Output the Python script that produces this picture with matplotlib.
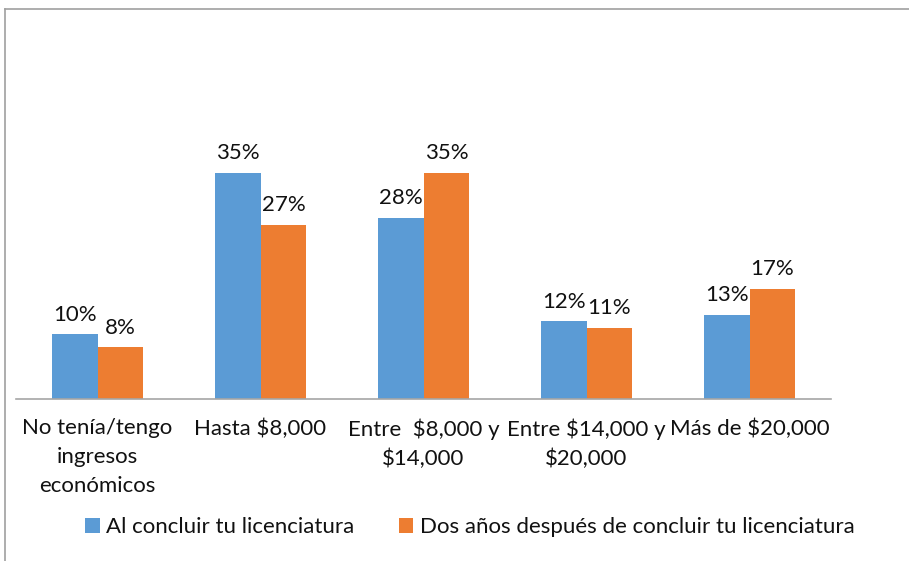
import matplotlib.pyplot as plt
import numpy as np
from matplotlib.lines import Line2D

plt.rcParams['font.family'] = ['Lato', 'DejaVu Sans']

categories = ['No tenía/tengo\ningresos\neconómicos', 'Hasta $8,000',
              'Entre  $8,000 y\n$14,000', 'Entre $14,000 y\n$20,000',
              'Más de $20,000']
al_concluir = [10, 35, 28, 12, 13]
dos_anios = [8, 27, 35, 11, 17]
series_names = ['Al concluir tu licenciatura',
                'Dos años después de concluir tu licenciatura']

blue = '#5B9BD5'
orange = '#ED7D31'

fig = plt.figure(figsize=(9.09, 5.61), dpi=100)
W, H = 909, 561
# plot area placed to match the reference (pixels)
ax = fig.add_axes([16 / W, (H - 399) / H, (831 - 16) / W, (399 - 60) / H])

x = np.arange(len(categories))
w = 0.282
b1 = ax.bar(x - w / 2, al_concluir, w, color=blue, label=series_names[0])
b2 = ax.bar(x + w / 2, dos_anios, w, color=orange, label=series_names[1])

for bars, vals in [(b1, al_concluir), (b2, dos_anios)]:
    for r, v in zip(bars, vals):
        ax.annotate(f'{v}%', (r.get_x() + r.get_width() / 2, v),
                    xytext=(0, 7), textcoords='offset points',
                    ha='center', va='bottom', fontsize=16, color='#111111')

ax.set_xlim(-0.5, len(categories) - 0.5)
ax.set_ylim(0, (399 - 60) / 6.46)
ax.set_xticks(x)
ax.set_xticklabels(categories, fontsize=16, color='#111111', linespacing=1.55)
ax.tick_params(axis='x', length=0, pad=14)
ax.set_yticks([])
for s in ['top', 'right', 'left']:
    ax.spines[s].set_visible(False)
ax.spines['bottom'].set_color('#a6a6a6')
ax.spines['bottom'].set_linewidth(1.2)

ax.legend(loc='center', bbox_to_anchor=(470 / W, (H - 527) / H),
          bbox_transform=fig.transFigure, ncol=2, frameon=False,
          fontsize=16, handlelength=0.65, handleheight=0.65,
          handletextpad=0.3, columnspacing=2.0, labelcolor='#111111')

# chart border (partially cropped in the original)
fig.add_artist(Line2D([5 / W, 1], [1 - 9 / H, 1 - 9 / H], color='#a0a0a0', lw=1.2))
fig.add_artist(Line2D([5 / W, 5 / W], [0, 1 - 9 / H], color='#a0a0a0', lw=1.2))

fig.savefig('out.png', dpi=100)
